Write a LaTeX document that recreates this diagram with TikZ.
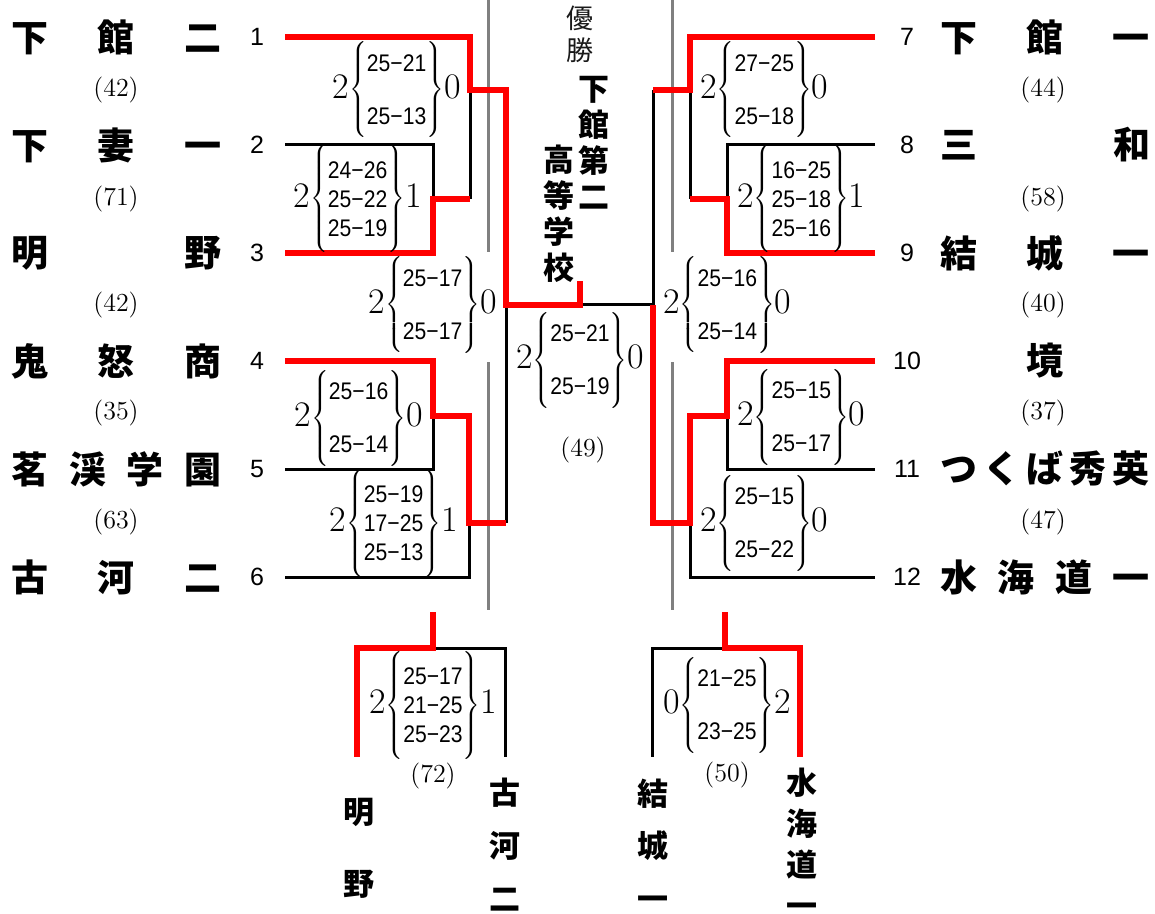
\documentclass[tikz,border=0pt]{standalone}
\usepackage{fontspec}
\newfontfamily\jpfont{Noto Sans CJK JP}
\newfontfamily\numfont{Liberation Sans}
\newfontfamily\setfont[FakeStretch=0.88]{Liberation Sans}

\newcommand\setscore[3]{%
  #1$\delimitershortfall=-2pt\relax
  \left\{\mbox{\setfont\fontsize{12}{14.5}\selectfont
    \begin{tabular}{@{}c@{}}#2\end{tabular}}\right\}$#3}
\newcommand\spread[1]{\hbox to 105pt{#1}}

\begin{document}
\begin{tikzpicture}[
      x = 0.5pt, y = -0.5pt,
      team/.style = {
        inner sep = 0,
        font = \jpfont\bfseries\fontsize{18.5}{20}\selectfont,
      },
      vteam/.style = {
        inner sep = 0,
        align = center,
        font = \jpfont\bfseries\fontsize{15.5}{#1}\selectfont,
      },
      seed/.style = {
        inner sep = 0,
        font = \numfont\fontsize{12.5}{14}\selectfont,
      },
      pts/.style = {
        inner sep = 0,
        font = \fontsize{13}{15}\selectfont,
      },
      score/.style = {
        inner sep = 0,
        font = \fontsize{18}{20}\selectfont,
      },
      win/.style = {red, line width = 3.3pt},
      lose/.style = {black, line width = 1.5pt},
      rule/.style = {gray, line width = 1.5pt},
    ]
    \useasboundingbox (0,0) rectangle (1155,914);

    % teams
    \node[team] (a1) at (116.5,37)  {\spread{下\hfill 館\hfill 二}};
    \node[team] (a2) at (116.5,145) {\spread{下\hfill 妻\hfill 一}};
    \node[team] (a3) at (116.5,253) {\spread{明\hfill 野}};
    \node[team] (a4) at (116.5,361) {\spread{鬼\hfill 怒\hfill 商}};
    \node[team] (a5) at (116.5,469) {\spread{茗\hfill 渓\hfill 学\hfill 園}};
    \node[team] (a6) at (116.5,577) {\spread{古\hfill 河\hfill 二}};
    \node[team] (a7) at (1045,37)   {\spread{下\hfill 館\hfill 一}};
    \node[team] (a8) at (1045,145)  {\spread{三\hfill 和}};
    \node[team] (a9) at (1045,253)  {\spread{結\hfill 城\hfill 一}};
    \node[team] (a10) at (1045,361) {\spread{\hfill 境\hfill}};
    \node[team] (a11) at (1045,469) {\spread{つ\hfill く\hfill ば\hfill 秀\hfill 英}};
    \node[team] (a12) at (1045,577) {\spread{水\hfill 海\hfill 道\hfill 一}};

    \foreach \y [count = \i] in {37,145,253,361,469,577} {
      \node[seed] (n\i) at (257,\y) {\i};
      \coordinate (p\i) at (285,\y);
    }
    \foreach \y [count = \i from 7] in {37,145,253,361,469,577} {
      \node[seed] (n\i) at (907,\y) {\i};
      \coordinate (p\i) at (875,\y);
    }
    \foreach \v/\y [count = \i] in {42/90, 71/199, 42/305, 35/413, 63/522}
      \node[pts] (pl\i) at (116,\y) {(\v)};
    \foreach \v/\y [count = \i] in {44/90, 58/199, 40/305, 37/413, 47/522}
      \node[pts] (pr\i) at (1043,\y) {(\v)};

    % junctions
    \coordinate (j23)     at (433,199);
    \coordinate (j123)    at (470,90);
    \coordinate (j45)     at (433,416);
    \coordinate (j456)    at (469,523);
    \coordinate (jL)      at (506,305);
    \coordinate (j89)     at (727,199);
    \coordinate (j789)    at (690,90);
    \coordinate (j1011)   at (727,416);
    \coordinate (j101112) at (690,523);
    \coordinate (jR)      at (653,305);
    \coordinate (fin)     at (580,305);
    \coordinate (tl)  at (433,612);
    \coordinate (tlm) at (433,648);
    \coordinate (bl1) at (357,757);
    \coordinate (bl2) at (505,757);
    \coordinate (tr)  at (725,612);
    \coordinate (trm) at (725,648);
    \coordinate (br1) at (652,757);
    \coordinate (br2) at (800,757);

    \draw[rule] (488,0) -- (488,252) (488,362) -- (488,610);
    \draw[rule] (672,0) -- (672,252) (672,362) -- (672,610);

    \begin{scope}[lose]
      \draw (p2) -| (j23);
      \draw (j23 -| j123) -- (j123);
      \draw (p5) -| (j45);
      \draw (p6) -| (j456);
      \draw (j456 -| jL) -- (jL);
      \draw (jL) -- (jR);
      \draw (p8) -| (j89);
      \draw (j89 -| j789) -- (j789);
      \draw (p11) -| (j1011);
      \draw (p12) -| (j101112);
      \draw (j789 -| jR) -- (jR);
      \draw (tlm) -| (bl2);
      \draw (trm) -| (br1);
    \end{scope}

    \begin{scope}[win]
      \draw (p1) -| (j123) -- (j123 -| jL) -- (jL) -- (fin) -- ++(0,-24);
      \draw (p3) -| (j23) -- (j23 -| j123);
      \draw (p4) -| (j45) -- (j45 -| j456) -- (j456) -- (j456 -| jL);
      \draw (p7) -| (j789) -- (j789 -| jR);
      \draw (p9) -| (j89) -- (j89 -| j789);
      \draw (p10) -| (j1011) -- (j1011 -| j101112) -- (j101112) -- (j101112 -| jR) -- (jR);
      \draw (tl) -- (tlm) -| (bl1);
      \draw (tr) -- (trm) -| (br2);
    \end{scope}

    % scores
    \node[score, anchor = east] (s1)    at (461,90)  {\setscore{2}{25−21\\[12pt]25−13}{0}};
    \node[score, anchor = east] (s23)   at (422,199) {\setscore{2}{24−26\\25−22\\25−19}{1}};
    \node[score, anchor = east] (sL)    at (497,305) {\setscore{2}{25−17\\[12pt]25−17}{0}};
    \node[score, anchor = east] (s45)   at (423,418) {\setscore{2}{25−16\\[12pt]25−14}{0}};
    \node[score, anchor = east] (s456)  at (458,523) {\setscore{2}{25−19\\17−25\\25−13}{1}};
    \node[score, anchor = west] (s7)    at (700,90)  {\setscore{2}{27−25\\[12pt]25−18}{0}};
    \node[score, anchor = west] (s89)   at (737,199) {\setscore{2}{16−25\\25−18\\25−16}{1}};
    \node[score, anchor = west] (sR)    at (663,305) {\setscore{2}{25−16\\[12pt]25−14}{0}};
    \node[score, anchor = west] (s1011) at (737,417) {\setscore{2}{25−15\\[12pt]25−17}{0}};
    \node[score, anchor = west] (s12)   at (700,523) {\setscore{2}{25−15\\[12pt]25−22}{0}};
    \node[score] (sF) at (580,360) {\setscore{2}{25−21\\[12pt]25−19}{0}};
    \node[pts] (pF) at (583,450) {(49)};
    \node[score] (sB1) at (433,705) {\setscore{2}{25−17\\21−25\\25−23}{1}};
    \node[pts] (pB1) at (433,776) {(72)};
    \node[score] (sB2) at (727,705) {\setscore{0}{21−25\\[12pt]23−25}{2}};
    \node[pts] (pB2) at (727,775) {(50)};

    % champion
    \node[inner sep = 0, align = center, black!90,
      font = \jpfont\fontsize{13.5}{16}\selectfont] (yusho) at (580,34) {優\\勝};
    \node[vteam = 18] (champ1) at (594,143) {下\\館\\第\\二};
    \node[vteam = 18] (champ2) at (559,214) {高\\等\\学\\校};

    % third place names
    \node[vteam = 36]    (b3)  at (359,848)   {明\\野};
    \node[vteam = 26.5]  (b6)  at (505,845)   {古\\河\\二};
    \node[vteam = 26.25] (b9)  at (653,844.5) {結\\城\\一};
    \node[vteam = 20.5]  (b12) at (802,843)   {水\\海\\道\\一};

  \end{tikzpicture}
\end{document}
